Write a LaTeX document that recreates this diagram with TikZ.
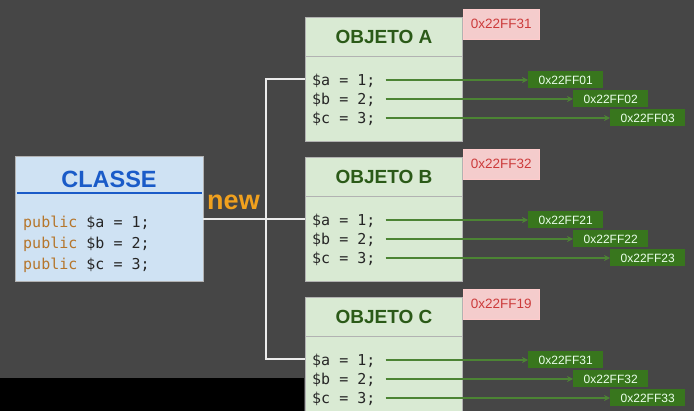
\documentclass[tikz,border=0pt]{standalone}
\usepackage{fontspec}
\setmainfont{Liberation Sans}
\setmonofont{DejaVu Sans Mono}
\usepackage{xcolor}
\usepackage{tikz}
\usetikzlibrary{arrows.meta, positioning, calc}

\definecolor{bgdark}{HTML}{464646}
\definecolor{classfill}{HTML}{CFE2F3}
\definecolor{classblue}{HTML}{1A5BC8}
\definecolor{kwbrown}{HTML}{B5762C}
\definecolor{neworange}{HTML}{F1A11E}
\definecolor{objfill}{HTML}{D9EAD3}
\definecolor{objgreen}{HTML}{2B5A18}
\definecolor{ptrgreen}{HTML}{38761D}
\definecolor{reffill}{HTML}{F4CCCC}
\definecolor{refred}{HTML}{CC3B3B}

\tikzset{
    classbox/.style={draw=gray!60, fill=classfill, minimum width=188pt, minimum height=125pt, inner sep=0pt},
    objbox/.style={draw=gray!60, fill=objfill, minimum width=157pt, minimum height=124pt, inner sep=0pt},
    code/.style={font=\ttfamily\fontsize{15}{15}\selectfont, text=black!85, inner sep=0pt, text height=11pt, text depth=0pt, anchor=west},
    objtitle/.style={font=\bfseries\fontsize{19}{19}\selectfont, text=objgreen},
    refbox/.style={draw=red!20, fill=reffill, text=refred, font=\fontsize{13.5}{13.5}\selectfont, minimum width=76pt, minimum height=30pt, inner sep=0pt, anchor=north west},
    membox/.style={fill=ptrgreen, text=green!8, font=\fontsize{12}{12}\selectfont, minimum width=75pt, minimum height=17pt, inner sep=0pt, anchor=west},
    ptr/.style={draw=ptrgreen!90!white, line width=2pt, -{Stealth[length=6pt, width=6pt]}},
    link/.style={draw=white!92!black, line width=2pt}
}

\begin{document}
\begin{tikzpicture}[x=1pt, y=-1pt]
    % Background
    \clip (0,0) rectangle (694,411);
    \fill[bgdark] (0,0) rectangle (694,411);

    % The class
    \node[classbox, anchor=north west] (classe) at (15,156) {};
    \node[font=\bfseries\fontsize{23.5}{23.5}\selectfont, text=classblue] (classtitle) at (109,179) {CLASSE};
    \draw[classblue, line width=2pt] (17,193) -- (202,193);
    \node[code] (pa) at (23,222) {{\color{kwbrown}public} \$a = 1;};
    \node[code] (pb) at (23,243) {{\color{kwbrown}public} \$b = 2;};
    \node[code] (pc) at (23,264) {{\color{kwbrown}public} \$c = 3;};

    % new keyword
    \node[font=\bfseries\fontsize{27}{27}\selectfont, text=neworange, inner sep=0pt, text height=14pt, text depth=0pt] (newkw) at (233.5,202.5) {new};

    % The objects
    \foreach \obj/\ty/\addr/\ma/\mb/\mc in {A/17/0x22FF31/01/02/03, B/157/0x22FF32/21/22/23, C/297/0x22FF19/31/32/33} {
        \node[objbox, anchor=north west] (obj\obj) at (305,\ty) {};
        \node[objtitle] (title\obj) at (384,\ty+19.5) {OBJETO \obj};
        \draw[gray!60] (305,\ty+39) -- (462,\ty+39);
        \node[refbox] (ref\obj) at (463,\ty-8) {\addr};

        % attributes
        \node[code] (a\obj) at (312,\ty+63) {\$a = 1;};
        \node[code] (b\obj) at (312,\ty+82) {\$b = 2;};
        \node[code] (c\obj) at (312,\ty+101) {\$c = 3;};

        % memory
        \node[membox] (ma\obj) at (528,\ty+63) {0x22FF\ma};
        \node[membox] (mb\obj) at (573,\ty+82) {0x22FF\mb};
        \node[membox] (mc\obj) at (610,\ty+101) {0x22FF\mc};
        \draw[ptr] ([xshift=10pt]a\obj.east) -- (ma\obj.west);
        \draw[ptr] ([xshift=10pt]b\obj.east) -- (mb\obj.west);
        \draw[ptr] ([xshift=10pt]c\obj.east) -- (mc\obj.west);
    }

    % Connectors
    \coordinate (fork) at (266,0);
    \draw[link] (classe.east) -- (classe.east -| fork);
    \draw[link] (objA.west) -- (objA.west -| fork) -- (objC.west -| fork) -- (objC.west);
    \draw[link] (objB.west) -- (objB.west -| fork);

    % bottom band
    \fill[black] (0,378) rectangle (304,411);
\end{tikzpicture}
\end{document}
